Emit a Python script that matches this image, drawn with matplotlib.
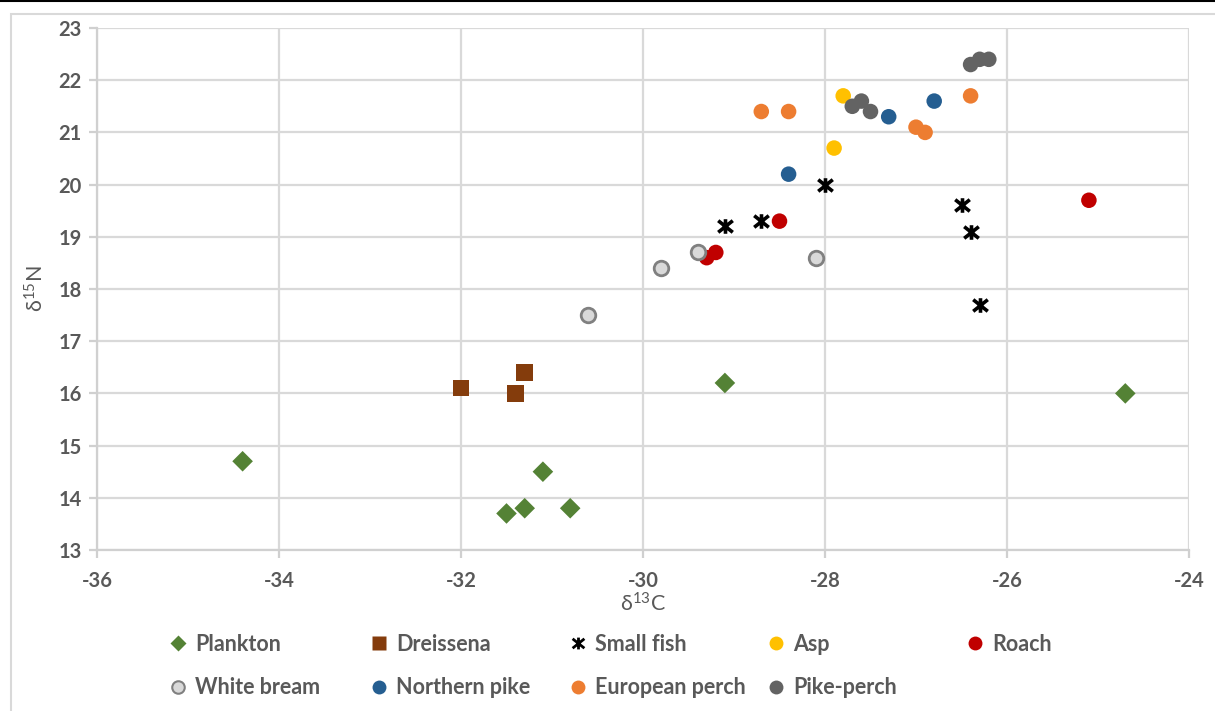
import matplotlib
matplotlib.use("Agg")
import matplotlib.pyplot as plt
from matplotlib.path import Path
from matplotlib.patches import Rectangle
from matplotlib.lines import Line2D

plt.rcParams['font.family'] = ['Lato', 'DejaVu Sans']
plt.rcParams['mathtext.default'] = 'regular'
plt.rcParams['axes.unicode_minus'] = False

# d13C / d15N values per group
plankton_c = [-34.4, -31.5, -31.3, -31.1, -30.8, -29.1, -24.7]
plankton_n = [14.7, 13.7, 13.8, 14.5, 13.8, 16.2, 16.0]
dreissena_c = [-32.0, -31.3, -31.4]
dreissena_n = [16.1, 16.4, 16.0]
smallfish_c = [-29.1, -28.7, -28.0, -26.5, -26.4, -26.3]
smallfish_n = [19.2, 19.3, 20.0, 19.6, 19.1, 17.7]
asp_c = [-27.8, -27.9]
asp_n = [21.7, 20.7]
roach_c = [-29.3, -29.2, -28.5, -25.1]
roach_n = [18.6, 18.7, 19.3, 19.7]
bream_c = [-29.8, -29.4, -30.6, -28.1]
bream_n = [18.4, 18.7, 17.5, 18.6]
pike_c = [-28.4, -27.3, -26.8]
pike_n = [20.2, 21.3, 21.6]
perch_c = [-28.7, -28.4, -27.0, -26.9, -26.4]
perch_n = [21.4, 21.4, 21.1, 21.0, 21.7]
pikeperch_c = [-26.4, -26.3, -26.2, -27.7, -27.6, -27.5]
pikeperch_n = [22.3, 22.4, 22.4, 21.5, 21.6, 21.4]

x_ticks = [-36, -34, -32, -30, -28, -26, -24]
y_ticks = list(range(13, 24))

# Excel-style "star" marker: an X with a vertical bar through it
star = Path([(-1, -0.8), (1, 0.8), (-1, 0.8), (1, -0.8), (0, -1), (0, 1)],
            [Path.MOVETO, Path.LINETO, Path.MOVETO, Path.LINETO,
             Path.MOVETO, Path.LINETO])

series = [
    ("Plankton", plankton_c, plankton_n, dict(marker='D', s=110, color='#548235', edgecolors='none')),
    ("Dreissena", dreissena_c, dreissena_n, dict(marker='s', s=140, color='#843c0c', edgecolors='none')),
    ("Small fish", smallfish_c, smallfish_n, dict(marker=star, s=110, color='black', linewidths=2.6)),
    ("Asp", asp_c, asp_n, dict(marker='o', s=125, color='#ffc000', edgecolors='none')),
    ("Roach", roach_c, roach_n, dict(marker='o', s=125, color='#c00000', edgecolors='none')),
    ("White bream", bream_c, bream_n, dict(marker='o', s=110, facecolors='#d9d9d9', edgecolors='#808080', linewidths=2)),
    ("Northern pike", pike_c, pike_n, dict(marker='o', s=125, color='#255e91', edgecolors='none')),
    ("European perch", perch_c, perch_n, dict(marker='o', s=125, color='#ed7d31', edgecolors='none')),
    ("Pike-perch", pikeperch_c, pikeperch_n, dict(marker='o', s=125, color='#636363', edgecolors='none')),
]

legend_handles = {
    "Plankton": Line2D([], [], ls='none', marker='D', ms=8, color='#548235', mec='none'),
    "Dreissena": Line2D([], [], ls='none', marker='s', ms=9.5, color='#843c0c', mec='none'),
    "Small fish": Line2D([], [], ls='none', marker=star, ms=8.5, color='black', mew=2),
    "Asp": Line2D([], [], ls='none', marker='o', ms=10, color='#ffc000', mec='none'),
    "Roach": Line2D([], [], ls='none', marker='o', ms=10, color='#c00000', mec='none'),
    "White bream": Line2D([], [], ls='none', marker='o', ms=9, mfc='#d9d9d9', mec='#808080', mew=1.5),
    "Northern pike": Line2D([], [], ls='none', marker='o', ms=10, color='#255e91', mec='none'),
    "European perch": Line2D([], [], ls='none', marker='o', ms=10, color='#ed7d31', mec='none'),
    "Pike-perch": Line2D([], [], ls='none', marker='o', ms=10, color='#636363', mec='none'),
}

W, H = 1215, 711
fig = plt.figure(figsize=(W / 100, H / 100), dpi=100)

# chart frame (runs off the right and bottom edges) and the rule along the top
fig.patches.append(Rectangle((11 / W, -0.05), 1.1, 1 - 14 / H + 0.05,
                             transform=fig.transFigure, fill=False,
                             edgecolor='#d9d9d9', lw=1.5))
fig.add_artist(Line2D([0, 1], [1 - 1 / H, 1 - 1 / H], transform=fig.transFigure,
                      color='black', lw=1.5))

ax = fig.add_axes([97 / W, 1 - 550 / H, (1189 - 97) / W, (550 - 28) / H])
for name, xs, ys, style in series:
    ax.scatter(xs, ys, zorder=3, label=name, **style)

ax.set_xlim(-36, -24)
ax.set_ylim(13, 23)
ax.set_xticks(x_ticks)
ax.set_yticks(y_ticks)
ax.grid(True, color='#d9d9d9', lw=1.6, zorder=0)
ax.set_axisbelow(True)
for side in ('top', 'right'):
    ax.spines[side].set_visible(False)
for side in ('left', 'bottom'):
    ax.spines[side].set_color('#d0d0d0')
    ax.spines[side].set_linewidth(1.6)
ax.tick_params(axis='both', colors='#d0d0d0', length=6, width=1.6,
               labelcolor='#595959', labelsize=14.5)
ax.tick_params(axis='x', pad=9)
ax.tick_params(axis='y', pad=5)
for lab in ax.get_xticklabels() + ax.get_yticklabels():
    lab.set_fontweight('bold')

ax.set_xlabel('δ$^{13}$C', fontsize=15.5, color='#595959', labelpad=1)
ax.set_ylabel('δ$^{15}$N', fontsize=15.5, color='#595959', labelpad=8)

# legend laid out as five fixed-width columns, two rows
names = [s[0] for s in series]
col_x = [175, 376, 575, 773, 972]
for i, cx in enumerate(col_x):
    col_names = [n for n in (names[i], names[i + 5] if i + 5 < len(names) else None) if n]
    leg = fig.legend([legend_handles[n] for n in col_names], col_names,
                     loc='upper left', bbox_to_anchor=((cx - 8) / W, 1 - 634 / H),
                     frameon=False, borderpad=0, borderaxespad=0,
                     handlelength=1.0, handletextpad=0.3, labelspacing=1.03,
                     prop=dict(family=['Lato', 'DejaVu Sans'], weight='bold', size=15.5))
    for t in leg.get_texts():
        t.set_color('#595959')

fig.savefig('out.png', dpi=100)
